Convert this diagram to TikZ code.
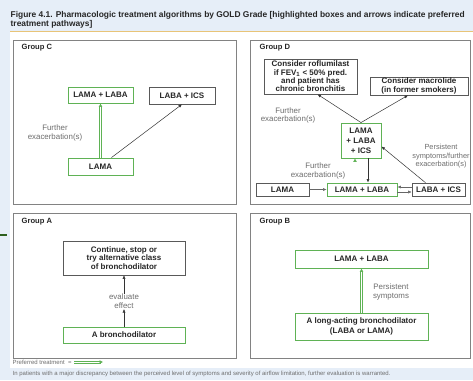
\documentclass[tikz,border=0pt]{standalone}
\usepackage{fontspec}
\setmainfont{Liberation Sans}
\usetikzlibrary{arrows.meta,shadows}
\definecolor{bgblue}{RGB}{230,238,248}
\definecolor{rulegold}{RGB}{232,196,120}
\definecolor{panelgray}{RGB}{130,130,130}
\definecolor{prefgreen}{RGB}{95,178,85}
\definecolor{notegray}{RGB}{110,110,110}
\definecolor{markgreen}{RGB}{45,95,30}
\tikzset{
  panel/.style={draw=panelgray, line width=0.8pt},
  grouplabel/.style={anchor=west, inner sep=0pt, font=\bfseries\fontsize{7.6}{9}\selectfont, text=black!85},
  box/.style={draw=black!65, fill=white, line width=0.6pt, align=center, inner sep=0pt,
    font=\bfseries\fontsize{8}{8.4}\selectfont, text=black!85,
    drop shadow={shadow xshift=0.8pt, shadow yshift=-0.8pt, opacity=0.25}},
  gbox/.style={box, draw=prefgreen, line width=0.9pt},
  note/.style={align=center, inner sep=0pt, text=notegray, font=\fontsize{7.9}{8.8}\selectfont},
  arr/.style={draw=black!80, line width=0.5pt, -{Latex[length=3.5pt,width=3pt]}},
  pref/.style={draw=prefgreen, double=white, double distance=1.3pt, line width=0.75pt, -{Latex[length=3.5pt,width=4pt]}},
  prefline/.style={draw=prefgreen, line width=0.8pt},
  preftip/.style={draw=prefgreen, line width=0.6pt, -{Latex[length=3.5pt,width=4pt]}},
  foot/.style={anchor=west, inner sep=0pt, text=notegray, font=\fontsize{6}{7}\selectfont}
}
\begin{document}
\begin{tikzpicture}[x=1pt,y=-1pt]
\useasboundingbox (0,0) rectangle (473,380);
\fill[bgblue] (0,0) rectangle (473,380);
\fill[white] (10,31) rectangle (473,368);
\draw[rulegold, line width=0.8pt] (10,31) -- (473,31);
\draw[markgreen, line width=1.4pt] (0,235) -- (7,235);
% title
\node[anchor=west, inner sep=0pt, font=\bfseries\fontsize{8.4}{10}\selectfont, text=black!85] (t1) at (10.5,15)
  {Figure 4.1. Pharmacologic treatment algorithms by GOLD Grade [highlighted boxes and arrows indicate preferred};
\node[anchor=west, inner sep=0pt, font=\bfseries\fontsize{8.4}{10}\selectfont, text=black!85] (t2) at (10.5,24.5)
  {treatment pathways]};
% panels
\draw[panel] (13,40) rectangle (236,204);
\draw[panel] (13,213) rectangle (236,358);
\draw[panel] (250,40) rectangle (470,204);
\draw[panel] (250,213) rectangle (470,358);
\node[grouplabel] (gc) at (21.5,47.5) {Group C};
\node[grouplabel] (gd) at (259.5,47.5) {Group D};
\node[grouplabel] (ga) at (21.5,222) {Group A};
\node[grouplabel] (gb) at (259.5,222) {Group B};
% Group C
\node[gbox, minimum width=65pt, minimum height=16pt] (c1) at (100.5,95) {LAMA + LABA};
\node[box, minimum width=66pt, minimum height=17pt] (c2) at (182,95.5) {LABA + ICS};
\node[gbox, minimum width=65pt, minimum height=17pt] (c3) at (100.5,166.5) {LAMA};
\draw[pref] (c3) -- (c1);
\draw[arr] ([xshift=11pt]c3.north) -- (c2.south);
\node[note] (cn) at (55,133) {Further\\exacerbation(s)};
% Group D
\node[box, minimum width=93pt, minimum height=35pt] (d1) at (310.5,76.5)
  {Consider roflumilast\\if FEV\textsubscript{1} < 50\% pred.\\and patient has\\chronic bronchitis};
\node[box, minimum width=98pt, minimum height=18pt] (d2) at (419,86) {Consider macrolide\\(in former smokers)};
\node[gbox, minimum width=40pt, minimum height=35pt, font=\bfseries\fontsize{8}{10}\selectfont] (d3) at (361,140.5) {LAMA\\+ LABA\\+ ICS};
\node[box, minimum width=53pt, minimum height=13pt] (d4) at (282.5,189.5) {LAMA};
\node[gbox, minimum width=70pt, minimum height=13pt] (d5) at (362,189.5) {LAMA + LABA};
\node[box, minimum width=53pt, minimum height=13pt] (d6) at (438.5,189.5) {LABA + ICS};
\draw[arr] (d3.north) -- ([xshift=7pt]d1.south);
\draw[arr] (d3.north) -- ([xshift=-11pt]d2.south);
\draw[arr, draw=black!60] (d4) -- (d5);
\draw[arr, draw=black!60] ([yshift=2.5pt]d6.west) -- ([yshift=2.5pt]d5.east);
\draw[arr, draw=black!60] ([yshift=-2.5pt]d5.east) -- ([yshift=-2.5pt]d6.west);
\draw[pref] ([xshift=-7pt]d5.north) -- ([xshift=-6pt]d3.south);
\draw[arr] ([xshift=7pt]d3.south) -- ([xshift=6pt]d5.north);
\draw[arr] ([xshift=-13pt]d6.north) -- ([yshift=-6pt]d3.east);
\node[note] (dn1) at (288,115.5) {Further\\exacerbation(s)};
\node[note] (dn2) at (318,171) {Further\\exacerbation(s)};
\node[note, font=\fontsize{7.4}{8.5}\selectfont] (dn3) at (441,156.5) {Persistent\\symptoms/further\\exacerbation(s)};
% Group A
\node[box, minimum width=122pt, minimum height=34pt, font=\bfseries\fontsize{8}{8.8}\selectfont] (a1) at (124,258) {Continue, stop or\\try alternative class\\of bronchodilator};
\node[note] (a2) at (124,301.5) {evaluate\\effect};
\node[gbox, minimum width=122pt, minimum height=16pt] (a3) at (124,335) {A bronchodilator};
\draw[arr] (a3) -- (a2);
\draw[arr] (a2) -- (a1);
% Group B
\node[gbox, minimum width=133pt, minimum height=18pt] (b1) at (361.5,259) {LAMA + LABA};
\node[gbox, minimum width=133pt, minimum height=27pt, font=\bfseries\fontsize{8}{9.4}\selectfont] (b2) at (361.5,326.5) {A long-acting bronchodilator\\(LABA or LAMA)};
\draw[pref] (b2) -- (b1);
\node[note] (bn) at (391,292) {Persistent\\symptoms};
% footer
\node[foot] (f1) at (12.5,362) {Preferred treatment\ \ =};
\coordinate (f0) at (74,362);
\coordinate (f2) at (103,362);
\draw[prefline] ([yshift=1.1pt]f0) -- ([yshift=1.1pt,xshift=-2.5pt]f2);
\draw[prefline] ([yshift=-1.1pt]f0) -- ([yshift=-1.1pt,xshift=-2.5pt]f2);
\draw[preftip] ([xshift=-3pt]f2) -- (f2);
\node[foot] (f3) at (12.5,374) {In patients with a major discrepancy between the perceived level of symptoms and severity of airflow limitation, further evaluation is warranted.};
\end{tikzpicture}
\end{document}
